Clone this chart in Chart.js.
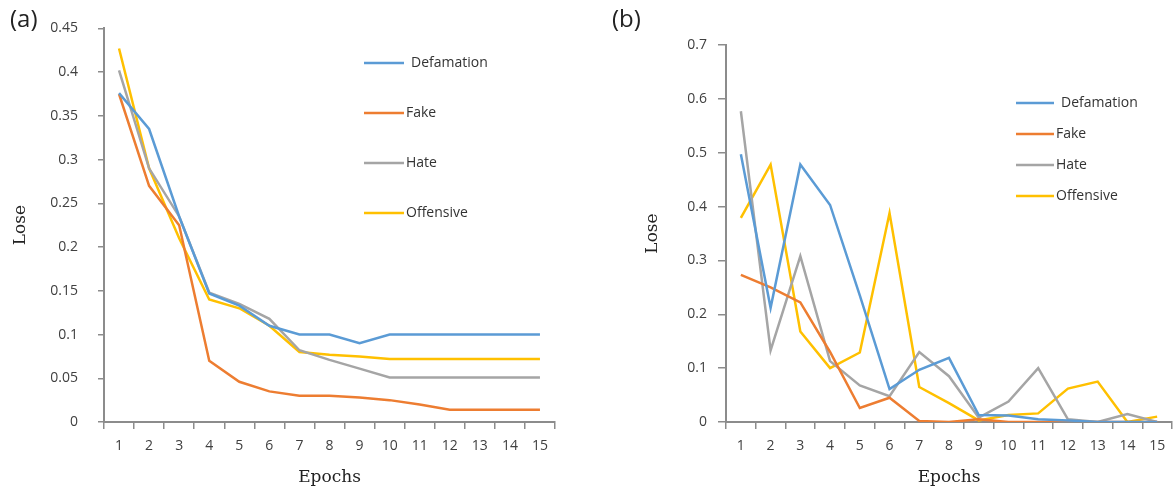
<!DOCTYPE html>
<html>
<head>
<meta charset="utf-8">
<script src="https://cdn.jsdelivr.net/npm/chart.js@4.4.1/dist/chart.umd.min.js"></script>
<style>
  body { margin: 0; background: #fff; }
  .box { position: absolute; top: 0; height: 492px; }
  #boxA { left: 0; width: 580px; }
  #boxB { left: 600px; width: 575px; }
</style>
</head>
<body>
<div class="box" id="boxA"><canvas id="chartA"></canvas></div>
<div class="box" id="boxB"><canvas id="chartB"></canvas></div>
<script>
var epochs = ['1', '2', '3', '4', '5', '6', '7', '8', '9', '10', '11', '12', '13', '14', '15'];
var seriesNames = ['Defamation', 'Fake', 'Hate', 'Offensive'];
var seriesColors = ['#5B9BD5', '#ED7D31', '#A5A5A5', '#FFC000'];

// (a)
var defamationA = [0.376, 0.335, 0.235, 0.147, 0.133, 0.11, 0.1, 0.1, 0.09, 0.1, 0.1, 0.1, 0.1, 0.1, 0.1];
var fakeA = [0.375, 0.27, 0.225, 0.07, 0.046, 0.035, 0.03, 0.03, 0.028, 0.025, 0.02, 0.014, 0.014, 0.014, 0.014];
var hateA = [0.402, 0.29, 0.235, 0.148, 0.135, 0.118, 0.082, 0.071, 0.061, 0.051, 0.051, 0.051, 0.051, 0.051, 0.051];
var offensiveA = [0.427, 0.29, 0.21, 0.14, 0.13, 0.11, 0.08, 0.077, 0.075, 0.072, 0.072, 0.072, 0.072, 0.072, 0.072];

// (b)
var defamationB = [0.497, 0.212, 0.478, 0.403, 0.235, 0.061, 0.097, 0.119, 0.013, 0.012, 0.005, 0.003, 0.0, 0.0, 0.0];
var fakeB = [0.273, 0.25, 0.222, 0.13, 0.026, 0.045, 0.002, 0.0, 0.005, 0.0, 0.0, 0.0, 0.0, 0.0, 0.0];
var hateB = [0.577, 0.133, 0.308, 0.113, 0.068, 0.048, 0.13, 0.085, 0.008, 0.038, 0.1, 0.005, 0.0, 0.015, 0.0];
var offensiveB = [0.379, 0.478, 0.168, 0.1, 0.129, 0.388, 0.065, 0.035, 0.003, 0.013, 0.016, 0.062, 0.075, 0.0, 0.01];

var axisColor = '#8c8c8c';
var tickFont = { family: 'Open Sans', size: 14 };
var titleFont = { family: 'DejaVu Serif', size: 17 };

// legend + panel tag drawn in the canvas
var sideLegend = {
    id: 'sideLegend',
    afterDraw: function (chart, args, opts) {
        var ctx = chart.ctx;
        ctx.save();
        ctx.font = '24px "Open Sans"';
        ctx.fillStyle = '#222';
        ctx.textBaseline = 'middle';
        ctx.textAlign = 'left';
        ctx.fillText(opts.tag, opts.tagX, 20);
        ctx.font = '14px "Open Sans"';
        ctx.fillStyle = '#333';
        chart.data.datasets.forEach(function (ds, i) {
            var y = opts.y + i * opts.gap;
            ctx.strokeStyle = ds.borderColor;
            ctx.lineWidth = 2.5;
            ctx.beginPath();
            ctx.moveTo(opts.x, y);
            ctx.lineTo(opts.x + opts.len, y);
            ctx.stroke();
            ctx.fillText(ds.label, opts.x + opts.len + 2 + (i === 0 ? 5 : 0), y);
        });
        ctx.restore();
    }
};

function makeDatasets(arrs) {
    return arrs.map(function (d, i) {
        return {
            label: seriesNames[i],
            data: d,
            borderColor: seriesColors[i],
            backgroundColor: seriesColors[i],
            borderWidth: 2.5,
            pointRadius: 0,
            tension: 0
        };
    });
}

function makeChart(id, arrs, cfg) {
    return new Chart(document.getElementById(id), {
        type: 'line',
        data: { labels: epochs, datasets: makeDatasets(arrs) },
        options: {
            responsive: true,
            maintainAspectRatio: false,
            animation: false,
            layout: { padding: { top: cfg.top, right: cfg.right, left: 0, bottom: 0 } },
            plugins: {
                legend: { display: false },
                tooltip: { enabled: false },
                sideLegend: cfg.legend
            },
            scales: {
                x: {
                    offset: true,
                    grid: { offset: true, drawOnChartArea: false, drawTicks: true, tickLength: 7, color: axisColor, lineWidth: 1.5 },
                    border: { color: axisColor, width: 2 },
                    ticks: { font: tickFont, color: '#404040', padding: 9, maxRotation: 0, autoSkip: false },
                    title: { display: true, text: 'Epochs', font: titleFont, color: '#222', padding: { top: 4 } },
                    afterFit: function (s) { s.height = 70; }
                },
                y: {
                    min: 0,
                    max: cfg.max,
                    grid: { drawOnChartArea: false, drawTicks: true, tickLength: cfg.tickLen, color: axisColor, lineWidth: 1.5 },
                    border: { color: axisColor, width: 2 },
                    ticks: {
                        stepSize: cfg.step, font: tickFont, color: '#404040', padding: cfg.tickPad,
                        callback: function (v) { return String(+v.toFixed(2)); }
                    },
                    title: { display: true, text: 'Lose', font: titleFont, color: '#222', padding: { top: cfg.titlePad, bottom: 0 } },
                    afterFit: function (s) { s.width = cfg.yWidth; }
                }
            }
        },
        plugins: [sideLegend]
    });
}

makeChart('chartA', [defamationA, fakeA, hateA, offensiveA], {
    top: 14, right: 25, max: 0.45, step: 0.05, yWidth: 104, tickLen: 6, tickPad: 20, titlePad: 10,
    legend: { tag: '(a)', tagX: 10, x: 364, y: 63, gap: 50, len: 40 }
});
makeChart('chartB', [defamationB, fakeB, hateB, offensiveB], {
    top: 45, right: 3, max: 0.7, step: 0.1, yWidth: 126, tickLen: 8, tickPad: 11, titlePad: 42,
    legend: { tag: '(b)', tagX: 12, x: 416, y: 103, gap: 31, len: 38 }
});
</script>
</body>
</html>
